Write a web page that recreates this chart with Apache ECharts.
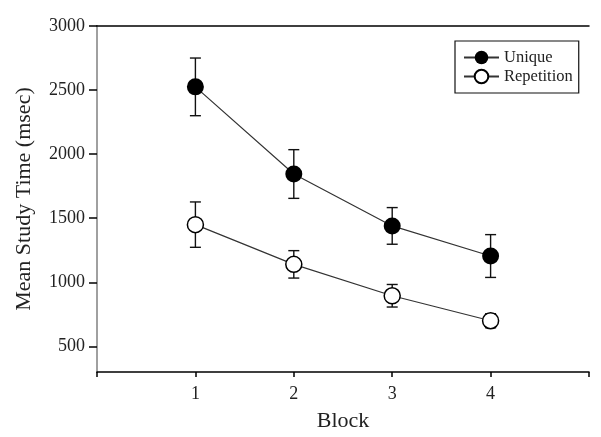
<!DOCTYPE html>
<html><head><meta charset="utf-8">
<script src="https://cdn.jsdelivr.net/npm/echarts@6/dist/echarts.min.js"></script>
<style>html,body{margin:0;padding:0;background:#fff}#c{width:601px;height:437px}</style>
</head><body><div id="c"></div>
<script>
const blocks = [1, 2, 3, 4];
const uniqueMean = [2525, 1845, 1440, 1205];
const uniqueErr = [225, 190, 143, 167];
const repMean = [1450, 1140, 895, 700];
const repErr = [177, 107, 88, 55];
const yTicks = [500, 1000, 1500, 2000, 2500, 3000];
const xTicks = [0, 1, 2, 3, 4, 5];
const xLabels = [1, 2, 3, 4];
const names = ['Unique', 'Repetition'];
const font = 'Liberation Serif';

function errRender(params, api) {
  const x = api.value(0), m = api.value(1), e = api.value(2);
  const t = api.coord([x, m + e]), b = api.coord([x, m - e]);
  const w = 5.5;
  const st = {stroke: '#111', lineWidth: 1.4};
  return {type: 'group', children: [
    {type: 'line', shape: {x1: t[0], y1: t[1], x2: b[0], y2: b[1]}, style: st},
    {type: 'line', shape: {x1: t[0] - w, y1: t[1], x2: t[0] + w, y2: t[1]}, style: st},
    {type: 'line', shape: {x1: b[0] - w, y1: b[1], x2: b[0] + w, y2: b[1]}, style: st}
  ]};
}

const chart = echarts.init(document.getElementById('c'));
chart.setOption({
  animation: false,
  backgroundColor: '#fff',
  grid: {left: 97, right: 12, top: 26, bottom: 64, containLabel: false},
  legend: {
    data: names, orient: 'vertical', left: 455, top: 41,
    borderColor: '#111', borderWidth: 1.2, padding: [8, 6, 8, 8],
    itemGap: 2, itemWidth: 35, itemHeight: 17,
    textStyle: {fontFamily: font, fontSize: 16.5, color: '#222'}
  },
  xAxis: [{
    type: 'value', min: 0, max: 5, interval: 1,
    name: 'Block', nameLocation: 'middle', nameGap: 38,
    nameTextStyle: {fontFamily: font, fontSize: 22, color: '#222'},
    axisLine: {lineStyle: {color: '#000', width: 1.5}},
    axisTick: {show: true, length: 5, lineStyle: {color: '#000', width: 1.5}, customValues: xTicks},
    axisLabel: {fontFamily: font, fontSize: 18, color: '#222', margin: 13, customValues: xLabels,
      formatter: v => String(v)},
    splitLine: {show: false}
  }, {
    type: 'value', min: 0, max: 5, position: 'top',
    axisLine: {lineStyle: {color: '#000', width: 1.5}},
    axisTick: {show: false}, axisLabel: {show: false}, splitLine: {show: false}
  }],
  yAxis: [{
    type: 'value', min: 300, max: 3000,
    name: 'Mean Study Time (msec)', nameLocation: 'middle', nameGap: 62,
    nameTextStyle: {fontFamily: font, fontSize: 22, color: '#222'},
    axisLine: {show: true, lineStyle: {color: '#000', width: 1.5}},
    axisTick: {show: true, length: 8, lineStyle: {color: '#000', width: 1.5}, customValues: yTicks},
    axisLabel: {fontFamily: font, fontSize: 18, color: '#222', margin: 12, customValues: yTicks,
      formatter: v => String(v)},
    splitLine: {show: false}
  }, {
    type: 'value', min: 300, max: 3000, position: 'right',
    axisLine: {show: true, lineStyle: {color: '#a0a0a0', width: 2}},
    axisTick: {show: false}, axisLabel: {show: false}, splitLine: {show: false}
  }],
  series: [{
    type: 'custom', name: 'errU', renderItem: errRender, z: 1,
    encode: {x: 0, y: 1},
    data: blocks.map((b, i) => [b, uniqueMean[i], uniqueErr[i]])
  }, {
    type: 'custom', name: 'errR', renderItem: errRender, z: 1,
    encode: {x: 0, y: 1},
    data: blocks.map((b, i) => [b, repMean[i], repErr[i]])
  }, {
    type: 'line', name: names[0], z: 3,
    data: blocks.map((b, i) => [b, uniqueMean[i]]),
    symbol: 'circle', symbolSize: 17,
    itemStyle: {color: '#000'},
    lineStyle: {color: '#333', width: 1.2}
  }, {
    type: 'line', name: names[1], z: 3,
    data: blocks.map((b, i) => [b, repMean[i]]),
    symbol: 'circle', symbolSize: 16,
    itemStyle: {color: '#fff', borderColor: '#000', borderWidth: 1.5},
    lineStyle: {color: '#333', width: 1.2}
  }]
});
</script></body></html>
